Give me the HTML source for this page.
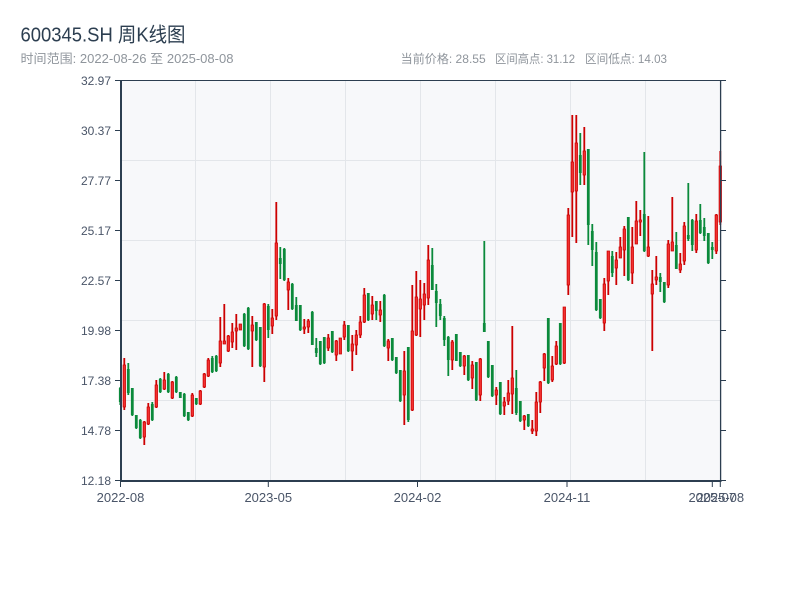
<!DOCTYPE html>
<html><head><meta charset="utf-8"><style>
html,body{margin:0;padding:0;background:#fff;}
svg{display:block;}
text{font-family:"Liberation Sans","Noto Sans CJK SC",sans-serif;}
</style></head><body>
<svg width="800" height="600" viewBox="0 0 800 600" xmlns="http://www.w3.org/2000/svg">
<rect x="0" y="0" width="800" height="600" fill="#fff"/>
<text x="20.5" y="41.5" font-size="20" fill="#2c3e50" textLength="165" lengthAdjust="spacingAndGlyphs">600345.SH 周K线图</text>
<text x="20.5" y="63" font-size="12.5" fill="#8f959c" textLength="213" lengthAdjust="spacingAndGlyphs">时间范围: 2022-08-26 至 2025-08-08</text>
<text x="400.7" y="63" font-size="12" fill="#8f959c" textLength="85" lengthAdjust="spacingAndGlyphs">当前价格: 28.55</text>
<text x="495" y="63" font-size="12" fill="#8f959c" textLength="80" lengthAdjust="spacingAndGlyphs">区间高点: 31.12</text>
<text x="585" y="63" font-size="12" fill="#8f959c" textLength="82" lengthAdjust="spacingAndGlyphs">区间低点: 14.03</text>

<rect x="120.5" y="80.5" width="600" height="400" fill="#f7f8fa"/>
<g stroke="#e3e6ea" stroke-width="1" fill="none">
<path d="M195.5 80.5V480.5M270.5 80.5V480.5M345.5 80.5V480.5M420.5 80.5V480.5M495.5 80.5V480.5M570.5 80.5V480.5M645.5 80.5V480.5"/>
<path d="M120.5 160.5H720.5M120.5 240.5H720.5M120.5 320.5H720.5M120.5 400.5H720.5"/>
</g>

<!-- red wicks -->
<path fill="none" stroke="#cc0000" stroke-width="1.8" d="M124.3 358V410M144.3 421V445M148.3 403V425M156.3 380V408M164.3 372V390M172.3 381V399M192.3 393V417M200.3 390V405M204.3 373V388M208.3 358V377M220.3 317V367M224.3 304V344M228.3 335V352M232.3 323V348M236.3 314V350M240.3 324V330M252.3 316V367M264.3 303V382M272.3 309V334M276.3 202V320M288.3 278V310M304.3 319V334M308.3 319V333M328.3 334V351M336.3 340V361M340.3 338V354M344.3 321V340M352.3 335V371M356.3 330V355M360.3 316V338M364.3 288V323M372.3 296V320M380.3 301V322M388.3 339V361M404.3 351V425M412.3 285V411M416.3 271V336M420.3 280V337M424.3 283V320M428.3 245V305M452.3 340V370M464.3 355V375M472.3 361V389M480.3 358V401M496.3 387V405M504.3 397V415M508.3 380V405M512.3 326V414M524.3 415V430M532.3 420V434M536.3 392V436M540.3 381V413M544.3 353V381M552.3 356V382M556.3 341V365M564.3 307V364M568.3 208V295M572.3 115V237M576.3 115V243M584.3 127V185M604.3 278V331M608.3 251V295M616.3 252V285M620.3 237V258M624.3 226V276M632.3 227V284M636.3 201V244M640.3 210V236M648.3 216V257M652.3 270V351M656.3 256V285M668.3 240V288M672.3 197V251M680.3 253V273M684.3 222V265M696.3 214V253M716.3 214V254M720.3 151V225"/>
<!-- red bodies -->
<path fill="#f23030" stroke="#cc0000" stroke-width="0.8" d="M123.1 365h2.4V407h-2.4ZM143.1 422h2.4V437h-2.4ZM147.1 407h2.4V424h-2.4ZM155.1 385h2.4V407h-2.4ZM163.1 380h2.4V389h-2.4ZM171.1 382h2.4V398h-2.4ZM191.1 395h2.4V416h-2.4ZM199.1 391h2.4V404h-2.4ZM203.1 374h2.4V387h-2.4ZM207.1 360h2.4V376h-2.4ZM219.1 341h2.4V363h-2.4ZM223.1 341h2.4V344h-2.4ZM227.1 336h2.4V351h-2.4ZM231.1 332h2.4V342h-2.4ZM235.1 328h2.4V331h-2.4ZM239.1 324h2.4V330h-2.4ZM251.1 325h2.4V331h-2.4ZM263.1 304h2.4V367h-2.4ZM271.1 318h2.4V326h-2.4ZM275.1 243h2.4V316h-2.4ZM287.1 282h2.4V290h-2.4ZM303.1 327h2.4V329h-2.4ZM307.1 321h2.4V327h-2.4ZM327.1 338h2.4V348h-2.4ZM335.1 341h2.4V355h-2.4ZM339.1 338h2.4V354h-2.4ZM343.1 325h2.4V337h-2.4ZM351.1 344h2.4V351h-2.4ZM355.1 335h2.4V345h-2.4ZM359.1 322h2.4V335h-2.4ZM363.1 295h2.4V322h-2.4ZM371.1 305h2.4V314h-2.4ZM379.1 310h2.4V315h-2.4ZM387.1 341h2.4V348h-2.4ZM403.1 371h2.4V395h-2.4ZM411.1 331h2.4V410h-2.4ZM415.1 297h2.4V335h-2.4ZM419.1 299h2.4V309h-2.4ZM423.1 294h2.4V305h-2.4ZM427.1 260h2.4V298h-2.4ZM451.1 342h2.4V360h-2.4ZM463.1 356h2.4V366h-2.4ZM471.1 365h2.4V378h-2.4ZM479.1 359h2.4V395h-2.4ZM495.1 390h2.4V395h-2.4ZM503.1 402h2.4V406h-2.4ZM507.1 393h2.4V401h-2.4ZM511.1 378h2.4V394h-2.4ZM523.1 416h2.4V420h-2.4ZM531.1 429h2.4V431h-2.4ZM535.1 402h2.4V431h-2.4ZM539.1 382h2.4V402h-2.4ZM543.1 354h2.4V368h-2.4ZM551.1 366h2.4V380h-2.4ZM555.1 346h2.4V364h-2.4ZM563.1 307h2.4V363h-2.4ZM567.1 215h2.4V285h-2.4ZM571.1 162h2.4V192h-2.4ZM575.1 143h2.4V191h-2.4ZM583.1 151h2.4V175h-2.4ZM603.1 284h2.4V323h-2.4ZM607.1 251h2.4V281h-2.4ZM615.1 260h2.4V268h-2.4ZM619.1 247h2.4V258h-2.4ZM623.1 229h2.4V250h-2.4ZM631.1 247h2.4V273h-2.4ZM635.1 221h2.4V244h-2.4ZM639.1 220h2.4V222h-2.4ZM647.1 247h2.4V256h-2.4ZM651.1 284h2.4V294h-2.4ZM655.1 277h2.4V280h-2.4ZM667.1 244h2.4V285h-2.4ZM671.1 242h2.4V251h-2.4ZM679.1 264h2.4V270h-2.4ZM683.1 226h2.4V261h-2.4ZM695.1 221h2.4V250h-2.4ZM715.1 215h2.4V251h-2.4ZM719.1 166h2.4V222h-2.4Z"/>
<!-- green wicks -->
<path fill="none" stroke="#0b8a3b" stroke-width="1.8" d="M120.3 387V405M128.3 363V395M132.3 388V416M136.3 415V429M140.3 419V439M152.3 402V421M160.3 378V393M168.3 373V393M176.3 376V393M180.3 392V398M184.3 393V417M188.3 412V421M196.3 398V405M212.3 356V373M216.3 355V372M244.3 313V347M248.3 307V350M256.3 322V341M260.3 327V367M268.3 304V338M280.3 247V279M284.3 248V281M292.3 283V310M296.3 297V321M300.3 305V331M312.3 311V345M316.3 338V357M320.3 341V365M324.3 337V364M332.3 331V353M348.3 325V352M368.3 293V321M376.3 301V320M384.3 294V347M392.3 338V361M396.3 357V374M400.3 370V402M408.3 347V422M432.3 248V290M436.3 284V327M440.3 299V320M444.3 316V346M448.3 336V376M456.3 334V361M460.3 352V367M468.3 355V381M476.3 362V401M484.3 241V332M488.3 341V378M492.3 365V397M500.3 382V415M516.3 370V415M520.3 401V422M528.3 414V427M548.3 318V384M560.3 323V365M580.3 133V185M588.3 149V245M592.3 224V266M596.3 242V311M600.3 299V319M612.3 251V277M628.3 217V281M644.3 152V252M660.3 273V292M664.3 282V303M676.3 232V269M688.3 183V241M692.3 219V251M700.3 204V234M704.3 218V241M708.3 233V264M712.3 242V259"/>
<!-- green bodies -->
<path fill="#0b8a3b" d="M118.9 388h2.8V402h-2.8ZM126.9 369h2.8V393h-2.8ZM130.9 388h2.8V415h-2.8ZM134.9 415h2.8V428h-2.8ZM138.9 420h2.8V438h-2.8ZM150.9 404h2.8V420h-2.8ZM158.9 379h2.8V392h-2.8ZM166.9 374h2.8V392h-2.8ZM174.9 377h2.8V392h-2.8ZM178.9 392h2.8V398h-2.8ZM182.9 394h2.8V416h-2.8ZM186.9 412h2.8V420h-2.8ZM194.9 398h2.8V404h-2.8ZM210.9 358h2.8V372h-2.8ZM214.9 356h2.8V371h-2.8ZM242.9 314h2.8V346h-2.8ZM246.9 308h2.8V349h-2.8ZM254.9 322h2.8V340h-2.8ZM258.9 327h2.8V366h-2.8ZM266.9 306h2.8V330h-2.8ZM278.9 258h2.8V264h-2.8ZM282.9 249h2.8V280h-2.8ZM290.9 284h2.8V309h-2.8ZM294.9 305h2.8V321h-2.8ZM298.9 305h2.8V330h-2.8ZM310.9 312h2.8V345h-2.8ZM314.9 348h2.8V353h-2.8ZM318.9 341h2.8V364h-2.8ZM322.9 337h2.8V363h-2.8ZM330.9 331h2.8V352h-2.8ZM346.9 325h2.8V351h-2.8ZM366.9 293h2.8V320h-2.8ZM374.9 301h2.8V311h-2.8ZM382.9 295h2.8V346h-2.8ZM390.9 338h2.8V360h-2.8ZM394.9 357h2.8V373h-2.8ZM398.9 370h2.8V401h-2.8ZM406.9 347h2.8V420h-2.8ZM430.9 265h2.8V290h-2.8ZM434.9 291h2.8V303h-2.8ZM438.9 304h2.8V316h-2.8ZM442.9 318h2.8V340h-2.8ZM446.9 337h2.8V360h-2.8ZM454.9 334h2.8V361h-2.8ZM458.9 352h2.8V366h-2.8ZM466.9 355h2.8V380h-2.8ZM474.9 362h2.8V400h-2.8ZM482.9 323h2.8V332h-2.8ZM486.9 341h2.8V377h-2.8ZM490.9 365h2.8V396h-2.8ZM498.9 382h2.8V414h-2.8ZM514.9 388h2.8V413h-2.8ZM518.9 401h2.8V421h-2.8ZM526.9 414h2.8V426h-2.8ZM546.9 318h2.8V383h-2.8ZM558.9 323h2.8V364h-2.8ZM578.9 155h2.8V173h-2.8ZM586.9 149h2.8V225h-2.8ZM590.9 231h2.8V250h-2.8ZM594.9 252h2.8V310h-2.8ZM598.9 299h2.8V318h-2.8ZM610.9 256h2.8V273h-2.8ZM626.9 217h2.8V280h-2.8ZM642.9 214h2.8V251h-2.8ZM658.9 277h2.8V282h-2.8ZM662.9 282h2.8V302h-2.8ZM674.9 245h2.8V269h-2.8ZM686.9 235h2.8V239h-2.8ZM690.9 220h2.8V245h-2.8ZM698.9 220h2.8V233h-2.8ZM702.9 227h2.8V236h-2.8ZM706.9 233h2.8V263h-2.8ZM710.9 247h2.8V250h-2.8Z"/>

<!-- axes -->
<g stroke="#2c3e50" fill="none">
<path stroke-width="1" d="M120.5 80.5H720.5"/>
<path stroke-width="1.3" d="M720.6 80V481"/>
<path stroke-width="2" d="M121 80V482"/>
<path stroke-width="2" d="M120 481H721.5"/>
<path stroke-width="1" d="M115 80.5H121M115 130.5H121M115 180.5H121M115 230.5H121M115 280.5H121M115 330.5H121M115 380.5H121M115 430.5H121M115 480.5H121"/>
<path stroke-width="1" d="M720 80.5H726M720 130.5H726M720 180.5H726M720 230.5H726M720 280.5H726M720 330.5H726M720 380.5H726M720 430.5H726M720 480.5H726"/>
<path stroke-width="1" d="M120.5 481V487M268.3 481V487M417.5 481V487M567 481V487M712.3 481V487M720.3 481V487"/>
</g>
<g font-size="12" fill="#4a5568" text-anchor="end">
<text x="111" y="85">32.97</text>
<text x="111" y="135">30.37</text>
<text x="111" y="185">27.77</text>
<text x="111" y="235">25.17</text>
<text x="111" y="285">22.57</text>
<text x="111" y="335">19.98</text>
<text x="111" y="385">17.38</text>
<text x="111" y="435">14.78</text>
<text x="111" y="485">12.18</text>
</g>
<g font-size="13" fill="#4a5568" text-anchor="middle">
<text x="120.5" y="502">2022-08</text>
<text x="268.3" y="502">2023-05</text>
<text x="417.5" y="502">2024-02</text>
<text x="567" y="502">2024-11</text>
<text x="712.3" y="502">2025-07</text>
<text x="720.3" y="502">2025-08</text>
</g>
</svg>
</body></html>
